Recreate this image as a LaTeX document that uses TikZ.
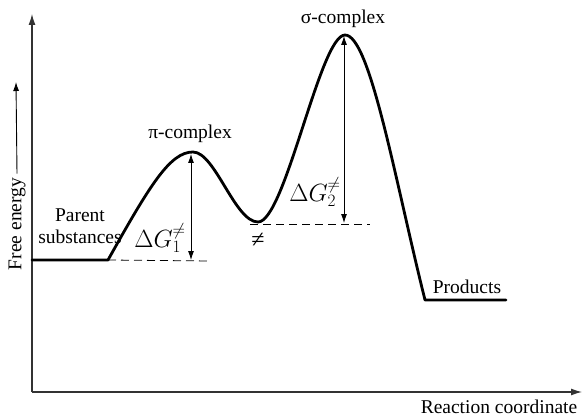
\documentclass[tikz,border=0pt]{standalone}
\usepackage{fontspec}
\setmainfont{LiberationSerif}[Extension=.ttf,UprightFont=*-Regular,BoldFont=*-Bold,ItalicFont=*-Italic]
\usetikzlibrary{arrows.meta}

\begin{document}
\begin{tikzpicture}[x=1pt,y=-1pt,
  every node/.style={inner sep=0pt,font=\rmfamily\fontsize{19.5}{22}\selectfont},
  axis/.style={draw=black!80,line width=1.2pt,-{Latex[length=11pt,width=7pt]}},
  energy/.style={line width=2.8pt,line join=round,line cap=round},
  level/.style={line width=0.8pt,dash pattern=on 8pt off 5pt},
  barrier/.style={line width=0.8pt,{Latex[length=9pt,width=6pt]}-{Latex[length=9pt,width=6pt]}},
  dg/.style={font=\fontsize{24}{28}\selectfont}]
\useasboundingbox (0,0) rectangle (584,417);
% axes
\coordinate (origin) at (32,392);
\coordinate (ytip) at (32,14);
\coordinate (xtip) at (582,392);
\draw[axis] (origin) -- (ytip);
\draw[axis] (origin) -- (xtip);
\node[rotate=90] (ylabel) at (17,224) {Free energy};
\coordinate (yarr) at (16,82);
\draw[line width=0.9pt,-{Latex[length=9pt,width=6pt]}] (ylabel.east) ++(0,-4) -- (yarr);
\node (xlabel) at (499,407) {Reaction coordinate};
% profile
\coordinate (start) at (32,260);
\coordinate (rise) at (108,260);
\coordinate (pi) at (193,152);
\coordinate (inter) at (258,222);
\coordinate (sigma) at (345,35);
\coordinate (fall) at (425,300);
\coordinate (end) at (506,300);
\draw[energy] (start) -- (rise)
  .. controls (150,185) and (170,152) .. (pi)
  .. controls (215,152) and (235,222) .. (inter)
  .. controls (285,222) and (320,35) .. (sigma)
  .. controls (370,35) and (395,180) .. (fall) -- (end);
% barriers
\coordinate (lev1) at (210,261);
\coordinate (lev2a) at (250,224);
\coordinate (lev2b) at (370,224);
\draw[level] (rise) -- (lev1);
\draw[level] (lev2a) -- (lev2b);
\coordinate (b1top) at (191,154);
\coordinate (b1bot) at (191,260);
\coordinate (b2top) at (344,36);
\coordinate (b2bot) at (344,223);
\draw[barrier] (b1top) -- (b1bot);
\draw[barrier] (b2top) -- (b2bot);
% labels
\node (lpi) at (190,134) {π-complex};
\node (lsig) at (343,19) {σ-complex};
\node[align=center] (lpar) at (80,226) {Parent\\substances};
\node (lprod) at (467,287) {Products};
\node[dg] (dg1) at (160,238) {$\Delta G_1^{\neq}$};
\node[dg] (dg2) at (315,192) {$\Delta G_2^{\neq}$};
\node[dg] (ne) at (258,240) {≠};
\end{tikzpicture}
\end{document}
